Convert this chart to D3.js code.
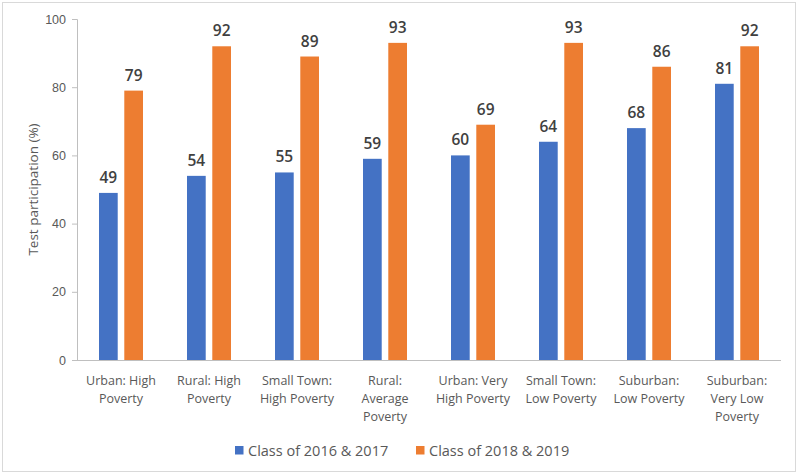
<!DOCTYPE html>
<html>
<head>
<meta charset="utf-8">
<script src="https://cdn.jsdelivr.net/npm/d3@7"></script>
<style>
  html, body { margin: 0; padding: 0; background: #fff; }
  svg { display: block; font-family: "Open Sans", "Noto Sans", sans-serif; }
</style>
</head>
<body>
<svg id="chart" width="800" height="476"></svg>
<script>
// ---- data ----
const categories = [
  "Urban: High|Poverty",
  "Rural: High|Poverty",
  "Small Town:|High Poverty",
  "Rural:|Average|Poverty",
  "Urban: Very|High Poverty",
  "Small Town:|Low Poverty",
  "Suburban:|Low Poverty",
  "Suburban:|Very Low|Poverty"
];
const seriesNames = ["Class of 2016 & 2017", "Class of 2018 & 2019"];
const class2016_2017 = [49, 54, 55, 59, 60, 64, 68, 81];
const class2018_2019 = [79, 92, 89, 93, 69, 93, 86, 92];
const yTicks = [0, 20, 40, 60, 80, 100];
const yTitle = "Test participation (%)";
const colors = ["#4472C4", "#ED7D31"];

const svg = d3.select("#chart");
const W = 800, H = 476;
const margin = { left: 77, right: 19, top: 19, bottom: 116 };

// frame
svg.append("rect").attr("x", 2.5).attr("y", 2.5).attr("width", 793).attr("height", 469)
  .attr("fill", "#fff").attr("stroke", "#d9d9d9").attr("stroke-width", 1);

const x0 = d3.scaleBand().domain(d3.range(categories.length))
  .range([margin.left, W - margin.right]).paddingInner(0).paddingOuter(0);
const x1 = d3.scaleBand().domain([0, 1]).range([0, x0.bandwidth()])
  .paddingInner(0.26).paddingOuter(0.87);
const y = d3.scaleLinear().domain([0, 100]).range([H - margin.bottom, margin.top]);

// y axis
const yAxis = svg.append("g").attr("transform", `translate(${margin.left},0)`)
  .call(d3.axisLeft(y).tickValues(yTicks).tickSize(5).tickPadding(6));
yAxis.select(".domain").attr("stroke", "#bfbfbf");
yAxis.selectAll(".tick line").attr("stroke", "#bfbfbf");
yAxis.selectAll(".tick text").attr("fill", "#595959").attr("font-size", 12.5);

// x axis line
svg.append("line")
  .attr("x1", margin.left - 5).attr("x2", W - margin.right)
  .attr("y1", y(0) + 0.5).attr("y2", y(0) + 0.5)
  .attr("stroke", "#bfbfbf");

// bars
const series = [class2016_2017, class2018_2019];
series.forEach((vals, si) => {
  const g = svg.append("g");
  g.selectAll("rect").data(vals).join("rect")
    .attr("x", (d, i) => x0(i) + x1(si))
    .attr("width", x1.bandwidth())
    .attr("y", d => y(d))
    .attr("height", d => y(0) - y(d))
    .attr("fill", colors[si]);
  g.selectAll("text").data(vals).join("text")
    .attr("x", (d, i) => x0(i) + x1(si) + x1.bandwidth() / 2)
    .attr("y", d => y(d) - 10)
    .attr("text-anchor", "middle")
    .attr("font-size", 15.5)
    .attr("font-weight", 600)
    .attr("fill", "#404040")
    .text(d => d3.format(".0f")(d));
});

// category labels
categories.forEach((c, i) => {
  const t = svg.append("text")
    .attr("x", x0(i) + x0.bandwidth() / 2)
    .attr("y", y(0) + 25)
    .attr("text-anchor", "middle")
    .attr("font-size", 12.5)
    .attr("fill", "#595959");
  c.split("|").forEach((line, li) => {
    t.append("tspan").attr("x", x0(i) + x0.bandwidth() / 2)
      .attr("dy", li === 0 ? 0 : 18).text(line);
  });
});

// y title
svg.append("text")
  .attr("transform", `translate(38,${(y(0) + y(100)) / 2}) rotate(-90)`)
  .attr("text-anchor", "middle")
  .attr("font-size", 13.5)
  .attr("fill", "#595959")
  .text(yTitle);

// legend
const legendItems = [{ x: 235, name: seriesNames[0], c: colors[0] }, { x: 416, name: seriesNames[1], c: colors[1] }];
legendItems.forEach(l => {
  svg.append("rect").attr("x", l.x).attr("y", 446).attr("width", 8.5).attr("height", 8.5).attr("fill", l.c);
  svg.append("text").attr("x", l.x + 13).attr("y", 455.5)
    .attr("font-size", 14.5).attr("fill", "#595959").text(l.name);
});
</script>
</body>
</html>
